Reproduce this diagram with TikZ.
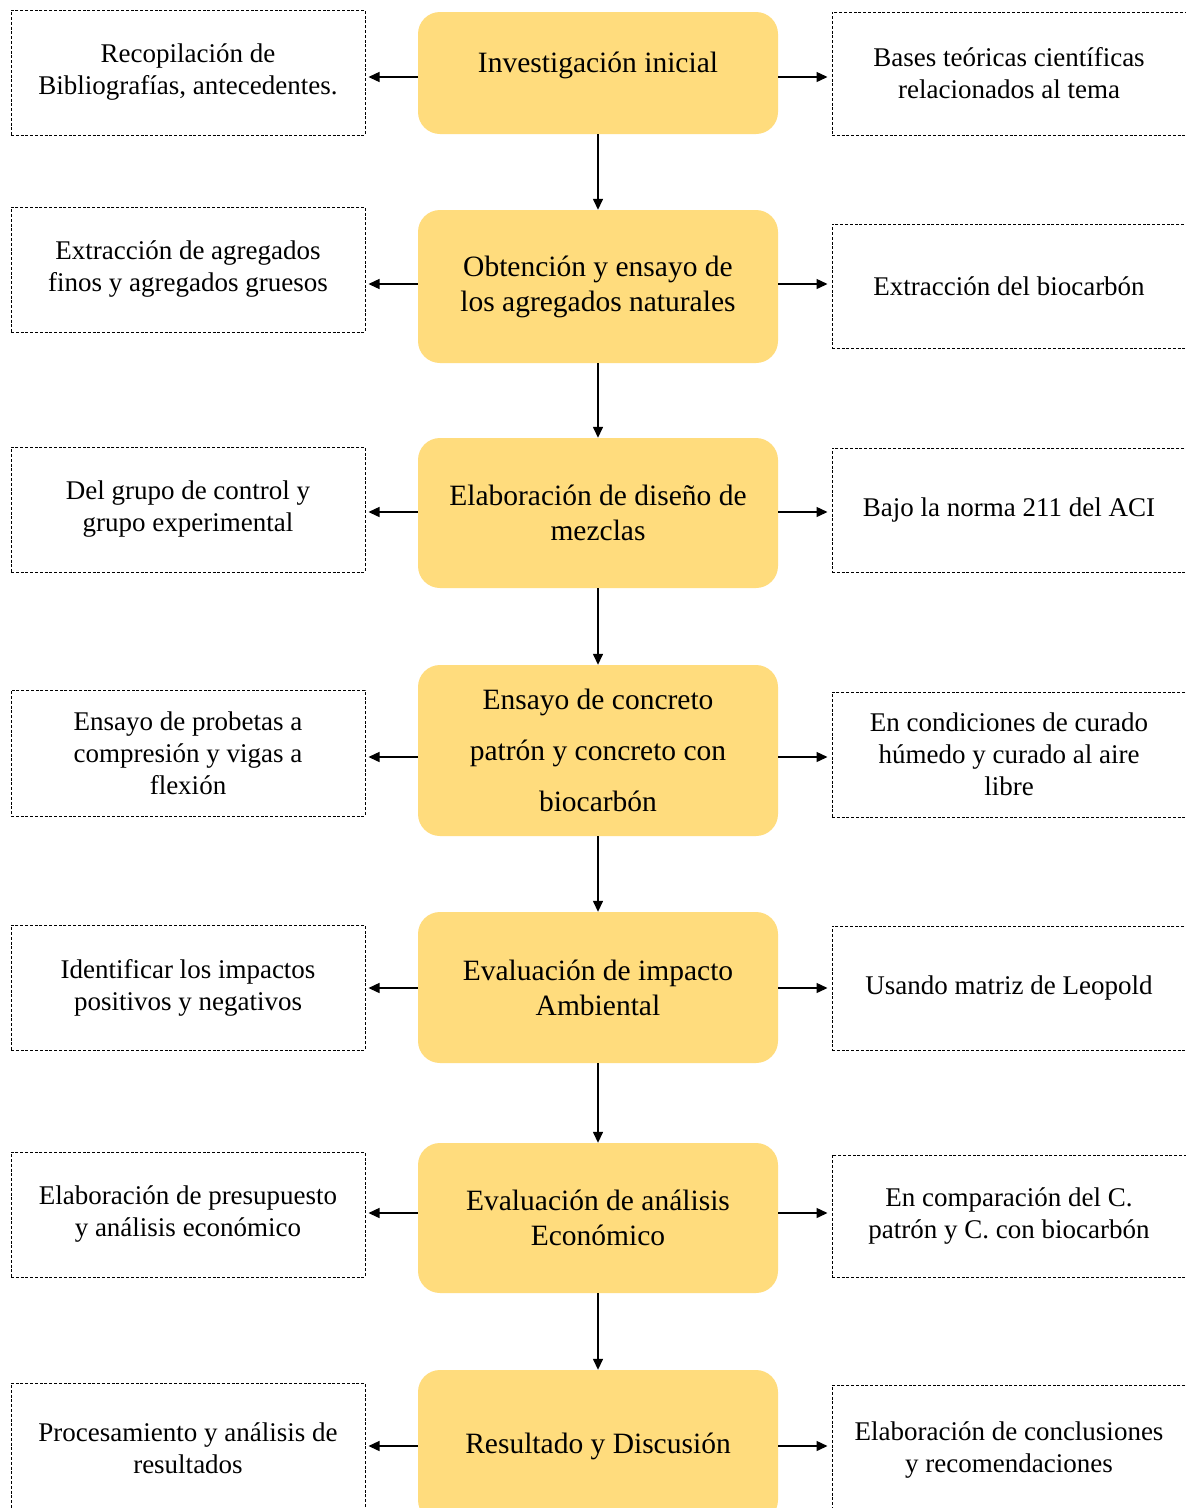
\documentclass[tikz,border=0pt]{standalone}
\usepackage{fontspec}
\setmainfont{Liberation Serif}
\usetikzlibrary{arrows.meta}
\definecolor{boxyellow}{RGB}{255,220,125}
\tikzset{
  mainbox/.style={fill=boxyellow, rounded corners=22pt, minimum width=360pt, align=center, inner sep=0pt, font=\fontsize{29.5}{35}\selectfont},
  sidebox/.style={draw, line width=1pt, dash pattern=on 3pt off 1.8pt, minimum width=354pt, align=center, inner sep=0pt, font=\fontsize{27}{32}\selectfont},
  arr/.style={line width=1.4pt, -{Triangle[length=11pt,width=10pt]}},
}
\begin{document}
\begin{tikzpicture}[x=1pt,y=-1pt]
\useasboundingbox (0,0) rectangle (1186,1508);
\fill[white] (0,0) rectangle (1186,1508);
% central boxes
\node[mainbox, minimum height=122pt, text depth=22pt] (c1) at (598,73) {Investigación inicial};
\node[mainbox, minimum height=153pt] (c2) at (598,286.5) {Obtención y ensayo de\\los agregados naturales};
\node[mainbox, minimum height=150pt] (c3) at (598,513) {Elaboración de diseño de\\mezclas};
\node[mainbox, minimum height=171pt, font=\fontsize{29.5}{51}\selectfont] (c4) at (598,750.5) {Ensayo de concreto\\patrón y concreto con\\biocarbón};
\node[mainbox, minimum height=151pt] (c5) at (598,987.5) {Evaluación de impacto\\Ambiental};
\node[mainbox, minimum height=150pt] (c6) at (598,1218) {Evaluación de análisis\\Económico};
\node[mainbox, minimum height=152pt] (c7) at (598,1446) {Resultado y Discusión};
% left boxes
\node[sidebox, minimum height=125pt] (l1) at (188,72.5) {Recopilación de\\Bibliografías, antecedentes.};
\node[sidebox, minimum height=125pt] (l2) at (188,269.5) {Extracción de agregados\\finos y agregados gruesos};
\node[sidebox, minimum height=125pt] (l3) at (188,509.5) {Del grupo de control y\\grupo experimental};
\node[sidebox, minimum height=126pt] (l4) at (188,753) {Ensayo de probetas a\\compresión y vigas a\\flexión};
\node[sidebox, minimum height=125pt] (l5) at (188,987.5) {Identificar los impactos\\positivos y negativos};
\node[sidebox, minimum height=125pt] (l6) at (188,1214.5) {Elaboración de presupuesto\\y análisis económico};
\node[sidebox, minimum height=130pt] (l7) at (188,1448) {Procesamiento y análisis de\\resultados};
% right boxes
\node[sidebox, minimum height=123pt] (r1) at (1009,73.5) {Bases teóricas científicas\\relacionados al tema};
\node[sidebox, minimum height=124pt] (r2) at (1009,286) {Extracción del biocarbón};
\node[sidebox, minimum height=124pt] (r3) at (1009,510) {Bajo la norma 211 del ACI};
\node[sidebox, minimum height=125pt] (r4) at (1009,754.5) {En condiciones de curado\\húmedo y curado al aire\\libre};
\node[sidebox, minimum height=124pt] (r5) at (1009,988) {Usando matriz de Leopold};
\node[sidebox, minimum height=122pt] (r6) at (1009,1216) {En comparación del C.\\patrón y C. con biocarbón};
\node[sidebox, minimum height=130pt] (r7) at (1009,1450) {Elaboración de conclusiones\\y recomendaciones};
% vertical arrows
\foreach \a/\b in {c1/c2,c2/c3,c3/c4,c4/c5,c5/c6,c6/c7}
  \draw[arr] (\a.south) -- (\b.north);
% horizontal arrows
\foreach \i/\d in {1/4,2/-2.5,3/-1,4/6.5,5/0.5,6/-5,7/0}{
  \path (c\i.west) ++(0,\d) coordinate (aw\i);
  \path (c\i.east) ++(0,\d) coordinate (ae\i);
  \draw[arr, shorten >=3pt] (aw\i) -- (aw\i -| l\i.east);
  \draw[arr, shorten >=4pt] (ae\i) -- (ae\i -| r\i.west);
}
\end{tikzpicture}
\end{document}
